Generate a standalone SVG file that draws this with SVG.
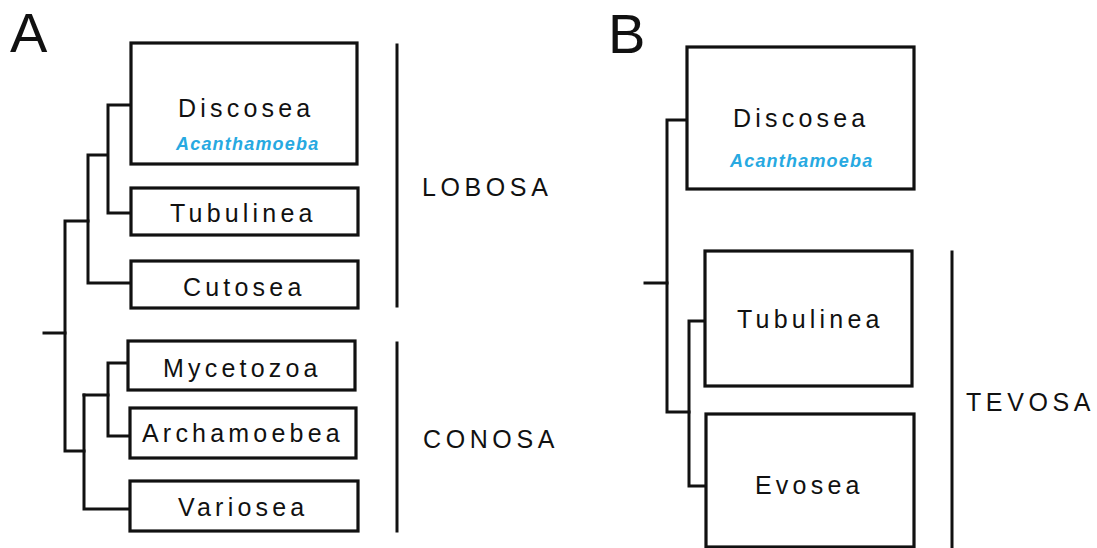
<svg xmlns="http://www.w3.org/2000/svg" width="1097" height="548" viewBox="0 0 1097 548">
<style>
.box{fill:#fff;stroke:#111;stroke-width:3.2}
.ln{fill:none;stroke:#111;stroke-width:3;stroke-linecap:square}
.lbl{font-family:"Liberation Sans",Arial,sans-serif;font-size:25px;letter-spacing:4.2px;fill:#111}
.grp{font-family:"Liberation Sans",Arial,sans-serif;font-size:25px;letter-spacing:4.6px;fill:#111}
.sp{font-family:"Liberation Sans",Arial,sans-serif;font-size:18px;font-weight:bold;font-style:italic;letter-spacing:1.2px;fill:#27a9e1}
.pan{font-family:"Liberation Sans",Arial,sans-serif;font-size:56px;fill:#111}
</style>
<rect width="1097" height="548" fill="#fff"/>
<text class="pan" x="10" y="52">A</text>
<text class="pan" x="608" y="53">B</text>
<g id="connectors">
<path class="ln" d="M131,105 H108 V213 H131"/>
<path class="ln" d="M106,155 H88 V283 H131"/>
<path class="ln" d="M88,221 H65 V451 H84"/>
<path class="ln" d="M44,333 H65"/>
<path class="ln" d="M84,395 V509 H130"/>
<path class="ln" d="M84,395 H108"/>
<path class="ln" d="M128,363 H108 V436 H130"/>
<path class="ln" d="M397,45 V306"/>
<path class="ln" d="M397,343 V531"/>
<path class="ln" d="M687,120 H667 V412 H689"/>
<path class="ln" d="M645,283 H667"/>
<path class="ln" d="M705,321 H689 V486 H706"/>
<path class="ln" d="M952,252 V548"/>
</g>
<g id="A-discosea"><rect class="box" x="131" y="43" width="226" height="121"/><text class="lbl" x="178" y="117">Discosea</text><text class="sp" x="176" y="150">Acanthamoeba</text></g>
<g id="A-tubulinea"><rect class="box" x="131" y="188" width="227" height="47"/><text class="lbl" x="170" y="222">Tubulinea</text></g>
<g id="A-cutosea"><rect class="box" x="131" y="261" width="227" height="47"/><text class="lbl" x="183" y="296">Cutosea</text></g>
<g id="A-mycetozoa"><rect class="box" x="128" y="341" width="227" height="49"/><text class="lbl" x="163" y="377">Mycetozoa</text></g>
<g id="A-archamoebea"><rect class="box" x="130" y="408" width="226" height="50"/><text class="lbl" x="142" y="442">Archamoebea</text></g>
<g id="A-variosea"><rect class="box" x="130" y="481" width="228" height="50"/><text class="lbl" x="178" y="516">Variosea</text></g>
<g id="A-lobosa"><text class="grp" x="422" y="196">LOBOSA</text></g>
<g id="A-conosa"><text class="grp" x="423" y="448">CONOSA</text></g>
<g id="B-discosea"><rect class="box" x="687" y="47" width="227" height="142"/><text class="lbl" x="733" y="127">Discosea</text><text class="sp" x="730" y="167">Acanthamoeba</text></g>
<g id="B-tubulinea"><rect class="box" x="705" y="251" width="207" height="135"/><text class="lbl" x="737" y="328">Tubulinea</text></g>
<g id="B-evosea"><rect class="box" x="706" y="414" width="208" height="133"/><text class="lbl" x="755" y="494">Evosea</text></g>
<g id="B-tevosa"><text class="grp" x="966" y="411">TEVOSA</text></g>
</svg>
